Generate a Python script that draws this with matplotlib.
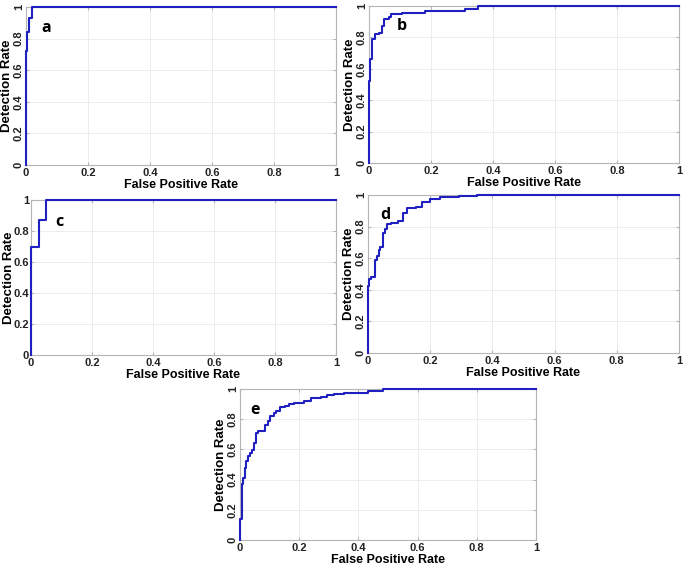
import matplotlib
matplotlib.use('Agg')
import matplotlib.pyplot as plt

plt.rcParams['font.family'] = ['Liberation Sans', 'DejaVu Sans']

# ROC staircase corners (fpr, tpr)
fpr_a = [0, 0, 0.004, 0.011, 0.02, 1]
tpr_a = [0, 0.72, 0.84, 0.93, 1.0, 1.0]

fpr_b = [0, 0, 0.003, 0.011, 0.02, 0.033, 0.042, 0.047, 0.064, 0.072, 0.105, 0.18, 0.31, 0.35, 1]
tpr_b = [0, 0.52, 0.66, 0.79, 0.82, 0.83, 0.87, 0.915, 0.93, 0.95, 0.958, 0.968, 0.98, 1.0, 1.0]

fpr_c = [0, 0, 0.025, 0.048, 1]
tpr_c = [0, 0.695, 0.87, 1.0, 1.0]

fpr_d = [0, 0, 0.003, 0.009, 0.023, 0.028, 0.034, 0.04, 0.049, 0.056, 0.062, 0.073, 0.096,
         0.113, 0.124, 0.153, 0.175, 0.198, 0.232, 0.294, 0.35, 1]
tpr_d = [0, 0.423, 0.47, 0.48, 0.59, 0.616, 0.654, 0.67, 0.76, 0.784, 0.815, 0.822, 0.836,
         0.885, 0.916, 0.927, 0.958, 0.973, 0.985, 0.994, 1.0, 1.0]

fpr_e = [0, 0, 0.006, 0.009, 0.017, 0.02, 0.028, 0.034, 0.042, 0.048, 0.055, 0.062, 0.085,
         0.093, 0.102, 0.114, 0.123, 0.134, 0.153, 0.165, 0.182, 0.216, 0.239, 0.273, 0.295,
         0.318, 0.352, 0.432, 0.483, 1]
tpr_e = [0, 0.14, 0.374, 0.41, 0.477, 0.52, 0.558, 0.576, 0.598, 0.642, 0.708, 0.719, 0.763,
         0.785, 0.818, 0.84, 0.855, 0.879, 0.888, 0.901, 0.91, 0.923, 0.938, 0.949, 0.96,
         0.967, 0.976, 0.987, 1.0, 1.0]

ticks = [0, 0.2, 0.4, 0.6, 0.8, 1]
tick_labels = ['0', '0.2', '0.4', '0.6', '0.8', '1']

W, H = 685, 568


def px_axes(fig, x0, y0, x1, y1):
    return fig.add_axes([x0 / W, 1 - y1 / H, (x1 - x0) / W, (y1 - y0) / H])


def roc_panel(ax, fpr, tpr, letter, pos, rot_y=True):
    ax.plot(fpr, tpr, drawstyle='steps-post', color='#2020c0', lw=1.5, clip_on=False, zorder=3)
    ax.set_xlim(0, 1)
    ax.set_ylim(0, 1)
    ax.set_xticks(ticks)
    ax.set_yticks(ticks)
    ax.set_xticklabels(tick_labels, fontsize=8, fontweight='bold')
    if rot_y:
        ax.set_yticklabels(tick_labels, fontsize=8, fontweight='bold', rotation=90, va='center')
        ax.set_ylabel('Detection Rate', fontsize=9.5, fontweight='bold', labelpad=1)
    else:
        ax.set_yticklabels(tick_labels, fontsize=8, fontweight='bold')
        ax.set_ylabel('Detection Rate', fontsize=9.5, fontweight='bold', labelpad=-1)
    ax.grid(True, color='#ececec', lw=0.7)
    ax.set_axisbelow(True)
    for s in ax.spines.values():
        s.set_color('#b5b5b5')
        s.set_linewidth(0.8)
    ax.tick_params(direction='in', length=2.5, color='#b5b5b5', pad=2,
                   top=True, right=True, labelcolor='#222222')
    ax.tick_params(axis='y', pad=1.5)
    ax.set_xlabel('False Positive Rate', fontsize=9, fontweight='bold', labelpad=1)
    ax.text(pos[0], pos[1], letter, transform=ax.transAxes, fontsize=11.5,
            fontweight='bold', family=['Open Sans', 'DejaVu Sans'], va='center')


fig = plt.figure(figsize=(6.85, 5.68), dpi=100)

ax_a = px_axes(fig, 26, 7, 336, 165)
roc_panel(ax_a, fpr_a, tpr_a, 'a', (0.05, 0.87))

ax_b = px_axes(fig, 369, 6, 679, 163)
roc_panel(ax_b, fpr_b, tpr_b, 'b', (0.09, 0.87))

ax_c = px_axes(fig, 31, 200, 336, 355)
roc_panel(ax_c, fpr_c, tpr_c, 'c', (0.08, 0.86), rot_y=False)

ax_d = px_axes(fig, 368, 195, 679, 353)
roc_panel(ax_d, fpr_d, tpr_d, 'd', (0.04, 0.875))

ax_e = px_axes(fig, 240, 389, 536, 540)
roc_panel(ax_e, fpr_e, tpr_e, 'e', (0.035, 0.86))

fig.savefig('out.png', dpi=100)
